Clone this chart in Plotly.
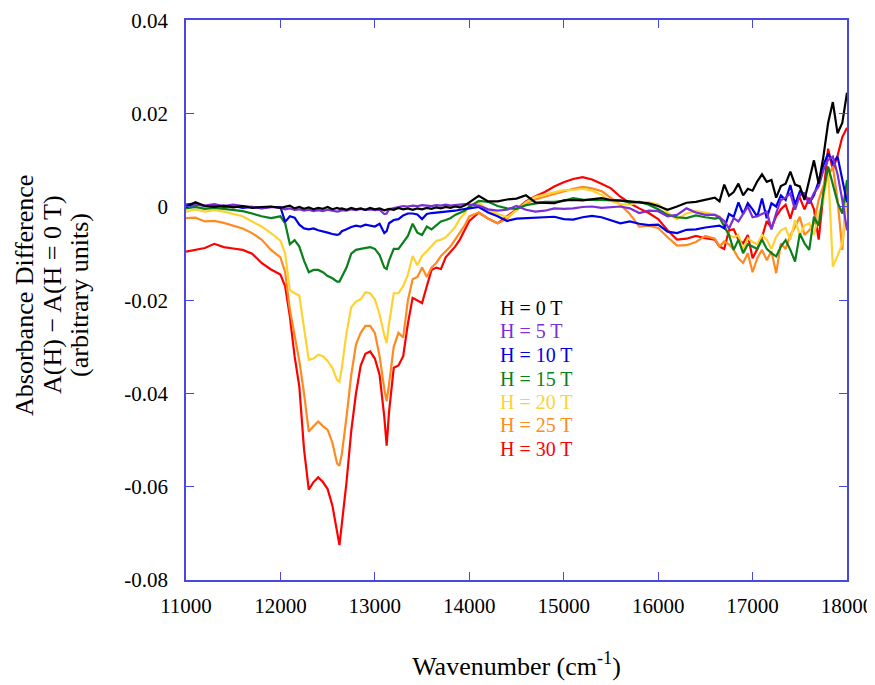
import plotly.graph_objects as go

# Wavenumber sampling positions (cm^-1)
wavenumber = (list(range(11000, 12000, 100))
              + list(range(12000, 12650, 50)) + [12625]
              + list(range(12650, 13150, 50)) + [13125]
              + list(range(13150, 14000, 50))
              + list(range(14000, 16700, 100))
              + list(range(16650, 18050, 50)))

field_labels = ["H = 0 T", "H = 5 T", "H = 10 T", "H = 15 T", "H = 20 T", "H = 25 T", "H = 30 T"]
colors = ["#000000", "#7B2FD6", "#0000E6", "#0A7F1A", "#FFD233", "#FF8A22", "#FF0000"]

h30 = [-0.0096, -0.0092, -0.0088, -0.0079, -0.0086, -0.0089, -0.0092, -0.0100, -0.0120, -0.0134,
       -0.0145, -0.0170, -0.0235, -0.0320, -0.0385, -0.0520, -0.0606, -0.0590, -0.0580, -0.0590,
       -0.0605, -0.0640, -0.0700, -0.0725, -0.0680, -0.0590, -0.0480, -0.0400, -0.0340, -0.0315,
       -0.0310, -0.0325, -0.0360, -0.0450, -0.0512, -0.0440, -0.0345, -0.0340, -0.0320, -0.0250,
       -0.0195, -0.0200, -0.0206, -0.0170, -0.0135, -0.0130, -0.0133, -0.0108, -0.0096, -0.0085,
       -0.0070, -0.0050,
       -0.0030, -0.0012, -0.0025, -0.0035, -0.0020, -0.0005, 0.0012, 0.0023, 0.0032, 0.0044,
       0.0053, 0.0060, 0.0064, 0.0059, 0.0050, 0.0040, 0.0022, 0.0008, -0.0003, -0.0013,
       -0.0026, -0.0050, -0.0070, -0.0068, -0.0062, -0.0067, -0.0070,
       -0.0085, -0.0090, -0.0050, -0.0048, -0.0070, -0.0078, -0.0060, -0.0110, -0.0090, -0.0065,
       -0.0030, -0.0045, -0.0020, -0.0005, 0.0005, -0.0025, 0.0010, 0.0020, -0.0005, 0.0020,
       -0.0005, -0.0070, 0.0030, 0.0125, 0.0080, 0.0110, 0.0150, 0.0170]

h25 = [-0.0024, -0.0023, -0.0031, -0.0030, -0.0034, -0.0040, -0.0046, -0.0056, -0.0070, -0.0092,
       -0.0108, -0.0140, -0.0220, -0.0275, -0.0330, -0.0400, -0.0482, -0.0470, -0.0460, -0.0470,
       -0.0478, -0.0505, -0.0550, -0.0555, -0.0530, -0.0450, -0.0360, -0.0295, -0.0270, -0.0255,
       -0.0255, -0.0270, -0.0320, -0.0390, -0.0417, -0.0380, -0.0300, -0.0270, -0.0280, -0.0200,
       -0.0155, -0.0150, -0.0130, -0.0150, -0.0130, -0.0120, -0.0105, -0.0095, -0.0085, -0.0070,
       -0.0055, -0.0040,
       -0.0020, -0.0012, -0.0025, -0.0035, -0.0025, -0.0005, 0.0008, 0.0016, 0.0022, 0.0028,
       0.0034, 0.0039, 0.0043, 0.0040, 0.0034, 0.0020, 0.0005, -0.0015, -0.0042, -0.0040,
       -0.0045, -0.0065, -0.0083, -0.0082, -0.0075, -0.0062, -0.0068,
       -0.0085, -0.0074, -0.0080, -0.0092, -0.0110, -0.0120, -0.0099, -0.0140, -0.0110, -0.0092,
       -0.0114, -0.0095, -0.0142, -0.0078, -0.0090, -0.0060, -0.0043, -0.0021, -0.0060, -0.0050,
       -0.0035, 0.0015, 0.0045, 0.0065, 0.0087, 0.0015, -0.0092, 0.0044]

h20 = [-0.0010, -0.0005, -0.0010, -0.0007, -0.0010, -0.0015, -0.0020, -0.0031, -0.0042, -0.0056,
       -0.0072, -0.0100, -0.0178, -0.0185, -0.0190, -0.0260, -0.0328, -0.0325, -0.0317, -0.0320,
       -0.0330, -0.0345, -0.0371, -0.0375, -0.0345, -0.0270, -0.0215, -0.0203, -0.0198, -0.0183,
       -0.0185, -0.0198, -0.0230, -0.0275, -0.0292, -0.0250, -0.0185, -0.0185, -0.0170, -0.0145,
       -0.0105, -0.0125, -0.0105, -0.0095, -0.0085, -0.0073, -0.0070, -0.0065, -0.0055, -0.0043,
       -0.0025, -0.0014,
       0.0004, 0.0009, -0.0007, -0.0014, -0.0022, -0.0008, 0.0010, 0.0022, 0.0027, 0.0032,
       0.0036, 0.0037, 0.0039, 0.0035, 0.0026, 0.0013, 0.0006, 0.0005, 0.0011, 0.0010,
       0.0006, -0.0012, -0.0026, -0.0014, -0.0009, -0.0012, -0.0016,
       -0.0020, -0.0040, -0.0060, -0.0065, -0.0060, -0.0092, -0.0067, -0.0075, -0.0080, -0.0060,
       -0.0070, -0.0090, -0.0064, -0.0050, -0.0045, -0.0071, -0.0028, -0.0060, -0.0040, -0.0035,
       -0.0060, -0.0015, 0.0015, 0.0080, -0.0128, -0.0105, -0.0078, 0.0020]

h15 = [-0.0003, 0.0000, -0.0004, -0.0002, -0.0004, -0.0006, -0.0009, -0.0014, -0.0020, -0.0024,
       -0.0020, -0.0035, -0.0080, -0.0071, -0.0085, -0.0115, -0.0140, -0.0135, -0.0135, -0.0140,
       -0.0148, -0.0153, -0.0160, -0.0160, -0.0150, -0.0130, -0.0100, -0.0092, -0.0090, -0.0088,
       -0.0086, -0.0090, -0.0103, -0.0130, -0.0133, -0.0115, -0.0090, -0.0090, -0.0075, -0.0062,
       -0.0036, -0.0055, -0.0060, -0.0042, -0.0048, -0.0040, -0.0031, -0.0028, -0.0024, -0.0017,
       -0.0013, -0.0008,
       0.0000, 0.0013, 0.0011, 0.0002, -0.0003, -0.0004, 0.0004, 0.0008, 0.0011, 0.0011,
       0.0013, 0.0019, 0.0016, 0.0015, 0.0015, 0.0015, 0.0014, 0.0010, 0.0011, 0.0005,
       -0.0005, -0.0017, -0.0022, -0.0024, -0.0018, -0.0022, -0.0025,
       -0.0023, -0.0040, -0.0060, -0.0092, -0.0070, -0.0099, -0.0080, -0.0085, -0.0090, -0.0070,
       -0.0090, -0.0099, -0.0106, -0.0085, -0.0071, -0.0092, -0.0117, -0.0057, -0.0078, -0.0092,
       -0.0021, -0.0040, 0.0030, 0.0087, 0.0051, 0.0010, -0.0014, 0.0058]

h10 = [0.0005, 0.0008, 0.0002, 0.0004, 0.0000, 0.0002, -0.0002, 0.0000, -0.0003, 0.0000,
       0.0000, -0.0032, -0.0020, -0.0023, -0.0038, -0.0046, -0.0048, -0.0046, -0.0050, -0.0052,
       -0.0055, -0.0058, -0.0060, -0.0058, -0.0052, -0.0048, -0.0043, -0.0040, -0.0042, -0.0038,
       -0.0040, -0.0042, -0.0036, -0.0056, -0.0052, -0.0035, -0.0028, -0.0026, -0.0018, -0.0014,
       -0.0014, -0.0016, -0.0026, -0.0015, -0.0013, -0.0012, -0.0011, -0.0010, -0.0010, -0.0008,
       -0.0006, -0.0004,
       -0.0003, 0.0000, -0.0012, -0.0020, -0.0030, -0.0025, -0.0024, -0.0024, -0.0022, -0.0021,
       -0.0026, -0.0027, -0.0022, -0.0019, -0.0022, -0.0029, -0.0035, -0.0031, -0.0036, -0.0039,
       -0.0038, -0.0053, -0.0056, -0.0049, -0.0048, -0.0044, -0.0042,
       -0.0040, -0.0046, -0.0015, -0.0021, 0.0010, -0.0015, 0.0008, -0.0005, -0.0021, 0.0018,
       -0.0024, 0.0008, 0.0001, 0.0025, 0.0015, 0.0047, 0.0005, 0.0033, 0.0028, 0.0008,
       0.0025, 0.0055, 0.0090, 0.0115, 0.0094, 0.0108, 0.0058, 0.0010]

h5 = [0.0003, 0.0005, 0.0003, 0.0006, 0.0002, 0.0005, 0.0002, 0.0000, -0.0002, 0.0000,
      -0.0002, -0.0005, -0.0003, -0.0006, -0.0005, -0.0008, -0.0006, -0.0009, -0.0007, -0.0009,
      -0.0006, -0.0008, -0.0010, -0.0009, -0.0007, -0.0008, -0.0005, -0.0007, -0.0004, -0.0006,
      -0.0005, -0.0007, -0.0006, -0.0015, -0.0014, -0.0005, -0.0002, 0.0000, 0.0002, 0.0001,
      0.0003, 0.0002, 0.0004, 0.0003, 0.0002, 0.0004, 0.0003, 0.0005, 0.0003, 0.0004,
      0.0005, 0.0006,
      0.0005, 0.0003, -0.0005, -0.0008, -0.0006, 0.0002, -0.0006, -0.0010, -0.0008, -0.0003,
      -0.0004, -0.0003, 0.0000, 0.0001, -0.0002, -0.0001, 0.0001, -0.0003, -0.0013, -0.0008,
      -0.0009, -0.0020, -0.0017, -0.0003, -0.0012, -0.0017, -0.0017,
      -0.0022, -0.0030, -0.0046, -0.0024, -0.0031, -0.0015, 0.0001, -0.0022, -0.0020, -0.0015,
      -0.0010, -0.0048, -0.0013, 0.0015, 0.0020, 0.0029, -0.0006, 0.0025, 0.0029, 0.0008,
      0.0030, 0.0044, 0.0079, 0.0101, 0.0108, 0.0070, 0.0015, -0.0050]

h0 = [0.0000, 0.0010, 0.0002, 0.0000, 0.0003, -0.0001, 0.0002, -0.0002, 0.0000, 0.0001,
      -0.0002, 0.0000, 0.0003, -0.0003, 0.0000, -0.0004, -0.0001, -0.0005, -0.0002, -0.0004,
      0.0000, -0.0005, -0.0002, -0.0004, -0.0003, -0.0006, -0.0002, -0.0005, -0.0003, -0.0006,
      -0.0002, -0.0005, -0.0003, -0.0007, -0.0005, -0.0004, -0.0006, -0.0002, -0.0005, -0.0003,
      -0.0006, -0.0003, -0.0005, -0.0002, -0.0004, -0.0001, -0.0003, 0.0000, -0.0002, 0.0001,
      -0.0001, 0.0003,
      0.0010, 0.0024, 0.0012, 0.0012, 0.0016, 0.0018, 0.0025, 0.0010, 0.0009, 0.0008,
      0.0014, 0.0015, 0.0014, 0.0017, 0.0019, 0.0015, 0.0014, 0.0012, 0.0010, 0.0008,
      0.0002, -0.0006, 0.0001, 0.0009, 0.0011, 0.0016, 0.0020,
      0.0012, 0.0048, 0.0024, 0.0032, 0.0050, 0.0025, 0.0039, 0.0035, 0.0055, 0.0070,
      0.0054, 0.0058, 0.0020, 0.0045, 0.0050, 0.0076, 0.0048, 0.0044, 0.0015, 0.0055,
      0.0100, 0.0050, 0.0108, 0.0180, 0.0225, 0.0158, 0.0180, 0.0245]

series = [h0, h5, h10, h15, h20, h25, h30]
for s in series:
    assert len(s) == len(wavenumber), (len(s), len(wavenumber))

x_ticks = [11000, 12000, 13000, 14000, 15000, 16000, 17000, 18000]
y_ticks = [-0.08, -0.06, -0.04, -0.02, 0, 0.02, 0.04]
y_tick_text = ["-0.08", "-0.06", "-0.04", "-0.02", "0", "0.02", "0.04"]
legend_y = [-0.0216, -0.0267, -0.0317, -0.0368, -0.0418, -0.0468, -0.0519]
y_title_lines = ["Absorbance Difference", "A(H) − A(H = 0 T)", "(arbitrary units)"]
y_title_x = [-0.2436, -0.2012, -0.1604]

FONT = "Liberation Serif"
AXC = "#4848E0"

fig = go.Figure()
# draw highest field first so low-field traces lie on top
for i in reversed(range(len(series))):
    fig.add_trace(go.Scatter(x=wavenumber, y=series[i], mode="lines",
                             line=dict(color=colors[i], width=2.2),
                             name=field_labels[i], showlegend=False))

for i, lab in enumerate(field_labels):
    fig.add_annotation(x=14300, y=legend_y[i], xref="x", yref="y", text=lab,
                       showarrow=False, xanchor="left", yanchor="middle",
                       font=dict(family=FONT, size=20, color=colors[i]))

for txt, xp in zip(y_title_lines, y_title_x):
    fig.add_annotation(x=xp, y=0.509, xref="paper", yref="paper", text=txt,
                       textangle=-90, showarrow=False, xanchor="center", yanchor="middle",
                       font=dict(family=FONT, size=26, color="black"))

fig.update_layout(
    width=875, height=685,
    margin=dict(l=178, r=36, t=12, b=113, autoexpand=False),
    paper_bgcolor="white", plot_bgcolor="white",
    font=dict(family=FONT, size=21, color="black"),
    xaxis=dict(range=[11000, 18000], tickvals=x_ticks, ticktext=[str(v) for v in x_ticks],
               automargin=False, ticklabeloverflow="allow",
               ticks="inside", ticklen=8, tickwidth=1, tickcolor=AXC, ticklabelstandoff=6,
               showline=True, linecolor=AXC, linewidth=1.5, mirror="ticks",
               showgrid=False, zeroline=False,
               title=dict(text="Wavenumber (cm<sup>-1</sup>)", font=dict(size=26), standoff=40)),
    yaxis=dict(range=[-0.08, 0.0401], tickvals=y_ticks, ticktext=y_tick_text,
               automargin=False, ticklabeloverflow="allow",
               ticks="inside", ticklen=8, tickwidth=1, tickcolor=AXC, ticklabelstandoff=12,
               showline=True, linecolor=AXC, linewidth=1.5, mirror="ticks",
               showgrid=False, zeroline=False),
)

fig.write_html("out.html")
